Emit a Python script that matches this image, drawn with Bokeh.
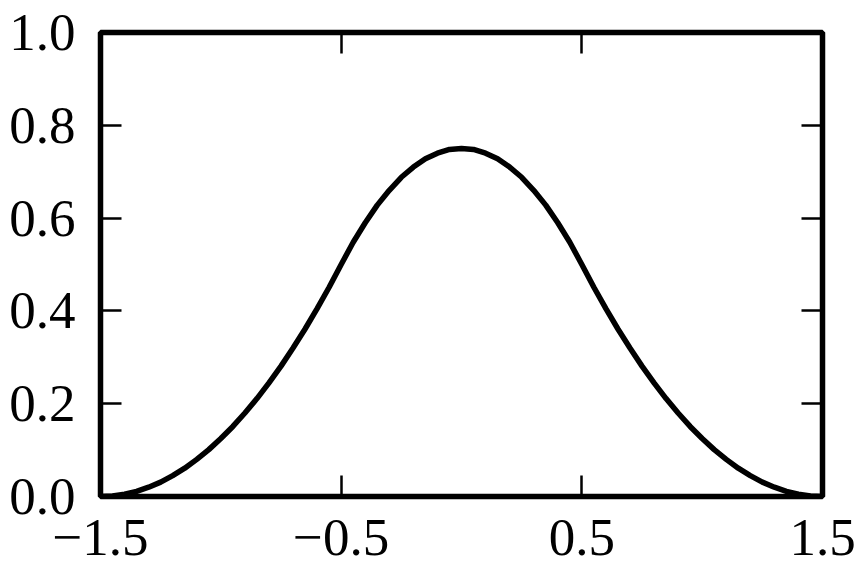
from bokeh.plotting import figure
from bokeh.models import Range1d, FixedTicker, LinearAxis, CustomJSTickFormatter
from bokeh.embed import file_html
from bokeh.resources import INLINE

# values (symmetric bump, peak 0.75 at x=0)
x_vals = [-1.5, -1.45, -1.4, -1.35, -1.3, -1.25, -1.2, -1.15, -1.1, -1.05,
          -1.0, -0.95, -0.9, -0.85, -0.8, -0.75, -0.7, -0.65, -0.6, -0.55,
          -0.5, -0.45, -0.4, -0.35, -0.3, -0.25, -0.2, -0.15, -0.1, -0.05,
          0.0, 0.05, 0.1, 0.15, 0.2, 0.25, 0.3, 0.35, 0.4, 0.45,
          0.5, 0.55, 0.6, 0.65, 0.7, 0.75, 0.8, 0.85, 0.9, 0.95,
          1.0, 1.05, 1.1, 1.15, 1.2, 1.25, 1.3, 1.35, 1.4, 1.45, 1.5]
y_vals = [0.0, 0.001, 0.005, 0.011, 0.02, 0.031, 0.045, 0.061, 0.08, 0.101,
          0.125, 0.151, 0.18, 0.211, 0.245, 0.281, 0.32, 0.361, 0.405, 0.451,
          0.5, 0.548, 0.59, 0.628, 0.66, 0.688, 0.71, 0.728, 0.74, 0.748,
          0.75, 0.748, 0.74, 0.728, 0.71, 0.688, 0.66, 0.628, 0.59, 0.548,
          0.5, 0.451, 0.405, 0.361, 0.32, 0.281, 0.245, 0.211, 0.18, 0.151,
          0.125, 0.101, 0.08, 0.061, 0.045, 0.031, 0.02, 0.011, 0.005, 0.001, 0.0]

x_ticks = [-1.5, -0.5, 0.5, 1.5]
y_ticks = [0.0, 0.2, 0.4, 0.6, 0.8, 1.0]

FONT = "Liberation Serif"
FONT_SIZE = "53px"

p = figure(width=864, height=577, output_backend="svg", toolbar_location=None,
           x_range=Range1d(-1.5, 1.5), y_range=Range1d(0.0, 1.0),
           x_axis_location=None, y_axis_location=None,
           min_border_left=100, min_border_right=42, min_border_top=32, min_border_bottom=81)
p.grid.visible = False
p.outline_line_color = "black"
p.outline_line_width = 5.5
p.background_fill_color = "white"
p.border_fill_color = "white"

fmt = CustomJSTickFormatter(code="return tick.toFixed(1).replace('-', '\u2212');")

def make_axis(ticks, show_labels, standoff):
    ax = LinearAxis(ticker=FixedTicker(ticks=ticks), formatter=fmt)
    ax.axis_line_color = None
    ax.major_tick_in = 21
    ax.major_tick_out = 0
    ax.major_tick_line_width = 2.5
    ax.major_tick_line_color = "black"
    ax.minor_tick_line_color = None
    ax.major_label_text_font = FONT
    ax.major_label_text_font_size = FONT_SIZE
    ax.major_label_text_color = "black" if show_labels else None
    ax.major_label_standoff = standoff
    return ax

p.add_layout(make_axis(y_ticks, True, 25), "left")
p.add_layout(make_axis(x_ticks, True, 23), "below")
ax_r = make_axis(y_ticks, False, 0)
ax_t = make_axis(x_ticks, False, 0)
ax_r.major_label_text_font_size = "0px"
ax_t.major_label_text_font_size = "0px"
p.add_layout(ax_r, "right")
p.add_layout(ax_t, "above")

p.line(x_vals, y_vals, line_color="black", line_width=5.5)

open("out.html", "w").write(file_html(p, INLINE))
